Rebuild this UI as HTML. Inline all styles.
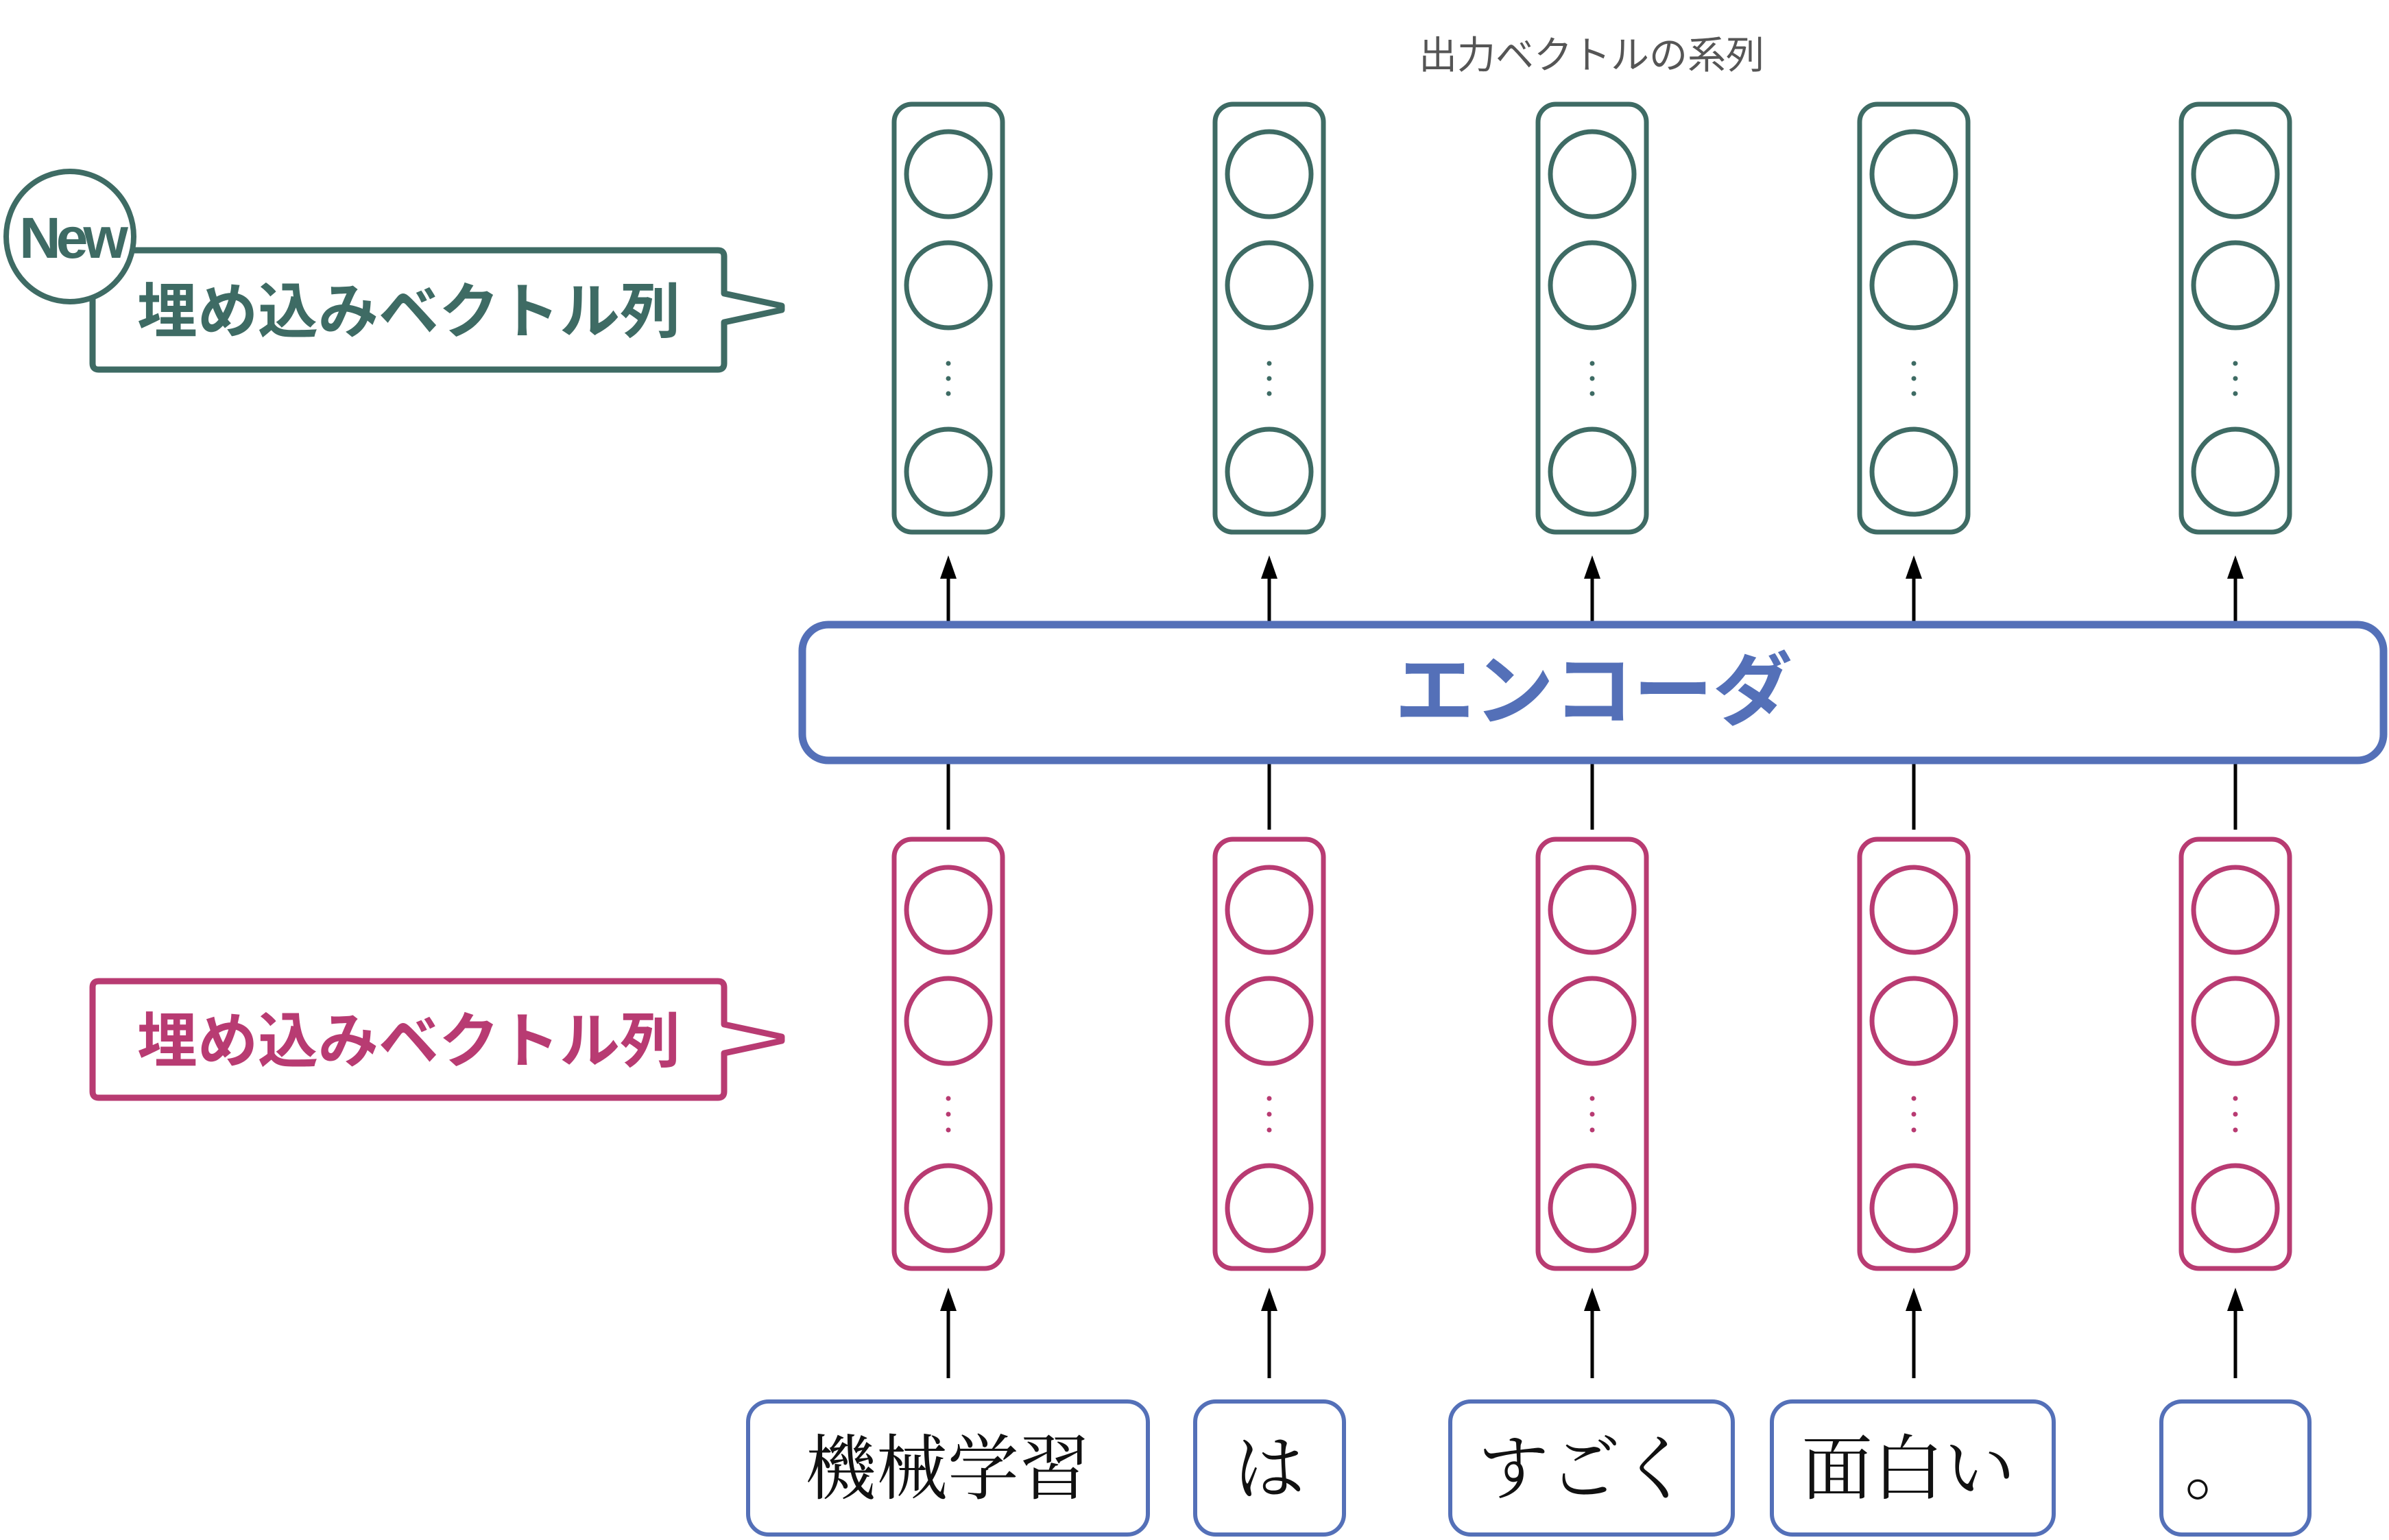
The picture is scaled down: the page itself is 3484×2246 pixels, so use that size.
<!DOCTYPE html>
<html><head><meta charset="utf-8">
<style>
html,body{margin:0;padding:0;background:#fff;}
svg{display:block;}
</style></head>
<body>
<svg width="3484" height="2246" viewBox="0 0 3484 2246" xmlns="http://www.w3.org/2000/svg">
<rect width="3484" height="2246" fill="#fff"/>
<text x="2321" y="100" text-anchor="middle" font-family="'Liberation Sans','Noto Sans CJK JP',sans-serif" font-size="56" fill="#555">出力ベクトルの系列</text>

<g id="cols">
</g>

<!-- Encoder -->
<rect x="1170" y="911" width="2306" height="198" rx="38" fill="#fff" stroke="#5470b8" stroke-width="11"/>
<text x="2324" y="1048" text-anchor="middle" font-family="'Liberation Sans','Noto Sans CJK JP',sans-serif" font-weight="bold" font-size="116" fill="#5470b8">エンコーダ</text>

<g font-family="'Liberation Serif','Noto Serif CJK SC',serif" font-size="104" fill="#111" text-anchor="middle">
<rect x="1091" y="2044" width="583" height="194" rx="30" fill="#fff" stroke="#5470b8" stroke-width="6"/>
<text x="1382" y="2178">機械学習</text>
<rect x="1743" y="2044" width="217" height="194" rx="30" fill="#fff" stroke="#5470b8" stroke-width="6"/>
<text x="1851" y="2178">は</text>
<rect x="2115" y="2044" width="412" height="194" rx="30" fill="#fff" stroke="#5470b8" stroke-width="6"/>
<text x="2311" y="2178">すごく</text>
<rect x="2584" y="2044" width="411" height="194" rx="30" fill="#fff" stroke="#5470b8" stroke-width="6"/>
<text x="2783" y="2178">面白い</text>
<rect x="3152" y="2044" width="216" height="194" rx="30" fill="#fff" stroke="#5470b8" stroke-width="6"/>
<text x="3238" y="2178">。</text>
</g>

<!-- Green label -->
<path d="M1056 428 L1056 374 Q1056 365 1047 365 L144 365 Q135 365 135 374 L135 530 Q135 539 144 539 L1047 539 Q1056 539 1056 530 L1056 470 L1140 452 L1140 446 Z" fill="#fff" stroke="#3e6b64" stroke-width="9" stroke-linejoin="round"/>
<ellipse cx="102" cy="345" rx="93" ry="95" fill="#fff" stroke="#3e6b64" stroke-width="8"/>
<text x="104" y="376" text-anchor="middle" font-family="'Liberation Sans',sans-serif" font-weight="bold" font-size="84" letter-spacing="-7" fill="#3e6b64">New</text>
<text x="596" y="485" text-anchor="middle" font-family="'Liberation Sans','Noto Sans CJK JP',sans-serif" font-weight="bold" font-size="88" fill="#3e6b64">埋め込みベクトル列</text>

<!-- Pink label -->
<path d="M1056 1494 L1056 1440 Q1056 1431 1047 1431 L144 1431 Q135 1431 135 1440 L135 1592 Q135 1601 144 1601 L1047 1601 Q1056 1601 1056 1592 L1056 1536 L1140 1518 L1140 1512 Z" fill="#fff" stroke="#b83b72" stroke-width="9" stroke-linejoin="round"/>
<text x="596" y="1549" text-anchor="middle" font-family="'Liberation Sans','Noto Sans CJK JP',sans-serif" font-weight="bold" font-size="88" fill="#b83b72">埋め込みベクトル列</text>

<script>
(function(){
var ns="http://www.w3.org/2000/svg";
var g=document.getElementById('cols');
var cs=[1383,1851,2322,2791,3260];
function el(t,a){var e=document.createElementNS(ns,t);for(var k in a)e.setAttribute(k,a[k]);g.appendChild(e);return e;}
function arrow(x,y1,y2){el('line',{x1:x,y1:y2,x2:x,y2:y1+24,stroke:'#000','stroke-width':5});el('polygon',{points:(x)+','+y1+' '+(x-12)+','+(y1+34)+' '+(x+12)+','+(y1+34),fill:'#000'});}
function col(x,top,bot,cys,dots,color){
 el('rect',{x:x-79,y:top,width:158,height:bot-top,rx:26,fill:'#fff',stroke:color,'stroke-width':7});
 cys.forEach(function(cy){el('ellipse',{cx:x,cy:cy,rx:61,ry:62,fill:'none',stroke:color,'stroke-width':7});});
 dots.forEach(function(dy){el('circle',{cx:x,cy:dy,r:3.5,fill:color});});
}
cs.forEach(function(x){
 col(x,152,776,[254,416,688],[530,552,574],'#3e6b64');
 col(x,1224,1850,[1327,1489,1762],[1602,1625,1648],'#b83b72');
 arrow(x,810,906);
 el('line',{x1:x,y1:1114,x2:x,y2:1210,stroke:'#000','stroke-width':5});
 arrow(x,1878,2010);
});
})();
</script>
</svg>
</body></html>
